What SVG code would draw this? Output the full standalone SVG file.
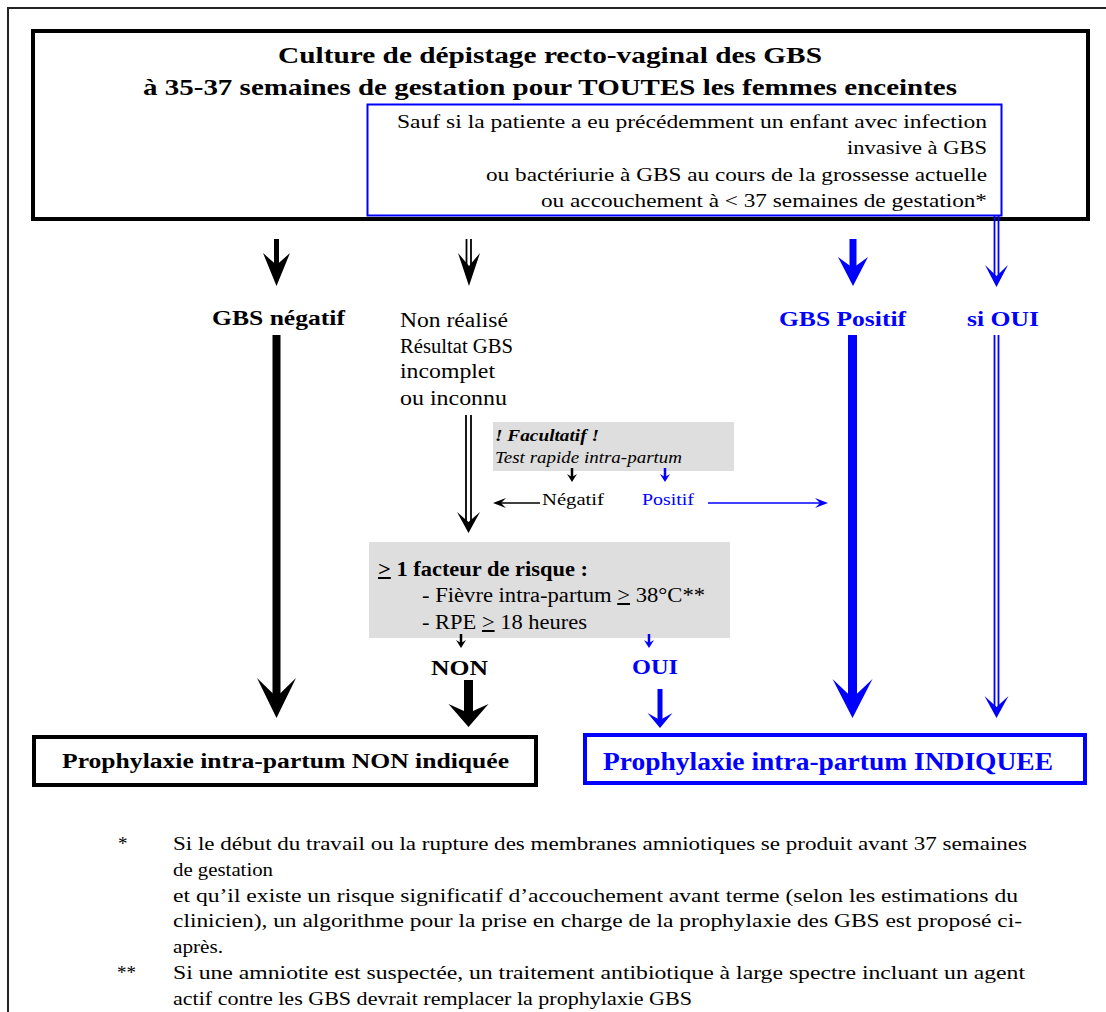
<svg xmlns="http://www.w3.org/2000/svg" width="1106" height="1012" viewBox="0 0 1106 1012">
<style>
text{font-family:"Liberation Serif","DejaVu Serif",serif;fill:#000}
.b{font-weight:bold}
.blue{fill:#0000ff}
.bx{fill:none;stroke:#000;stroke-width:4}
.bbx{fill:none;stroke:#0000ff;stroke-width:4}
.gray{fill:#dedede}
.k{stroke:#000;fill:none}
.kb{stroke:#0000ff;fill:none}
.hk{fill:#000}
.hb{fill:#0000ff}
.fn{font-size:19px}
</style>
<rect width="1106" height="1012" fill="#fff"/>
<path d="M8,1012 V8 H1106" fill="none" stroke="#222" stroke-width="2"/>

<g id="top">
<rect class="bx" x="33" y="31" width="1055" height="188"/>
<text class="b" x="278" y="63" font-size="23" textLength="544" lengthAdjust="spacingAndGlyphs">Culture de dépistage recto-vaginal des GBS</text>
<text class="b" x="143" y="95" font-size="23" textLength="814" lengthAdjust="spacingAndGlyphs">à 35-37 semaines de gestation pour TOUTES les femmes enceintes</text>
</g>

<g id="exception">
<rect x="367.5" y="104.5" width="634" height="111" fill="none" stroke="#0000ff" stroke-width="2"/>
<text x="397" y="128" font-size="18" textLength="590" lengthAdjust="spacingAndGlyphs">Sauf si la patiente a eu précédemment un enfant avec infection</text>
<text x="847" y="154" font-size="18" textLength="140" lengthAdjust="spacingAndGlyphs">invasive à GBS</text>
<text x="486" y="181" font-size="18" textLength="501" lengthAdjust="spacingAndGlyphs">ou bactériurie à GBS au cours de la grossesse actuelle</text>
<text x="541" y="207" font-size="18" textLength="446" lengthAdjust="spacingAndGlyphs">ou accouchement à &lt; 37 semaines de gestation*</text>
</g>

<g id="gbs-negatif">
<text class="b" x="212" y="325" font-size="21" textLength="133" lengthAdjust="spacingAndGlyphs">GBS négatif</text>
</g>

<g id="non-realise">
<text x="400" y="327" font-size="20" textLength="108" lengthAdjust="spacingAndGlyphs">Non réalisé</text>
<text x="400" y="353" font-size="20" textLength="113" lengthAdjust="spacingAndGlyphs">Résultat GBS</text>
<text x="400" y="378" font-size="20" textLength="95" lengthAdjust="spacingAndGlyphs">incomplet</text>
<text x="400" y="405" font-size="20" textLength="107" lengthAdjust="spacingAndGlyphs">ou inconnu</text>
</g>

<g id="gbs-positif">
<text class="b blue" x="779" y="326" font-size="21" textLength="127" lengthAdjust="spacingAndGlyphs">GBS Positif</text>
</g>

<g id="si-oui">
<text class="b blue" x="967" y="326" font-size="21" textLength="72" lengthAdjust="spacingAndGlyphs">si OUI</text>
</g>

<g id="facultatif">
<rect class="gray" x="493" y="422" width="241" height="49"/>
<text class="b" x="495" y="441" font-size="16.5" font-style="italic" textLength="104" lengthAdjust="spacingAndGlyphs">! Facultatif !</text>
<text x="495" y="463" font-size="16.5" font-style="italic" textLength="187" lengthAdjust="spacingAndGlyphs">Test rapide intra-partum</text>
</g>

<g id="negatif">
<text x="542" y="505" font-size="17" textLength="62" lengthAdjust="spacingAndGlyphs">Négatif</text>
</g>

<g id="positif">
<text class="blue" x="642" y="505" font-size="17" textLength="52" lengthAdjust="spacingAndGlyphs">Positif</text>
</g>

<g id="facteur-risque">
<rect class="gray" x="369" y="542" width="361" height="96"/>
<text class="b" x="378" y="576" font-size="20" textLength="210" lengthAdjust="spacingAndGlyphs"><tspan text-decoration="underline">&gt;</tspan> 1 facteur de risque :</text>
<text x="422" y="602" font-size="20" textLength="283" lengthAdjust="spacingAndGlyphs">- Fièvre intra-partum <tspan text-decoration="underline">&gt;</tspan> 38°C**</text>
<text x="422" y="629" font-size="20" textLength="165" lengthAdjust="spacingAndGlyphs">- RPE <tspan text-decoration="underline">&gt;</tspan> 18 heures</text>
</g>

<g id="non">
<text class="b" x="431" y="675" font-size="21" textLength="57" lengthAdjust="spacingAndGlyphs">NON</text>
</g>

<g id="oui">
<text class="b blue" x="632" y="674" font-size="21" textLength="46" lengthAdjust="spacingAndGlyphs">OUI</text>
</g>

<g id="non-indiquee">
<rect class="bx" x="34" y="737" width="502" height="48"/>
<text class="b" x="62" y="768" font-size="20" textLength="447" lengthAdjust="spacingAndGlyphs">Prophylaxie intra-partum NON indiquée</text>
</g>

<g id="indiquee">
<rect class="bbx" x="585" y="735" width="500" height="48"/>
<text class="b blue" x="603" y="770" font-size="25" textLength="450" lengthAdjust="spacingAndGlyphs">Prophylaxie intra-partum INDIQUEE</text>
</g>

<g id="connectors">
<line class="k" x1="276.5" y1="239" x2="276.5" y2="267" stroke-width="5"/>
<path class="hk" d="M263,253 L276.5,286 L290,253 L276.5,265 Z"/>
<line class="k" x1="466.5" y1="239" x2="466.5" y2="268" stroke-width="1.8"/>
<line class="k" x1="471" y1="239" x2="471" y2="268" stroke-width="1.8"/>
<path class="hk" d="M458,253 L469,286 L480,253 L469,266 Z"/>
<line class="kb" x1="853" y1="239" x2="853" y2="270" stroke-width="7"/>
<path class="hb" d="M838,257 L853,286 L868,257 L853,268 Z"/>
<line class="kb" x1="994.5" y1="216" x2="994.5" y2="277" stroke-width="1.8"/>
<line class="kb" x1="998.5" y1="216" x2="998.5" y2="277" stroke-width="1.8"/>
<path class="hb" d="M985,265 L996.5,287 L1008,265 L996.5,276 Z"/>
<line class="k" x1="276.5" y1="335" x2="276.5" y2="700" stroke-width="8"/>
<path class="hk" d="M257,678 L276.5,718 L296,678 L276.5,697 Z"/>
<line class="k" x1="466" y1="415" x2="466" y2="523" stroke-width="1.8"/>
<line class="k" x1="471" y1="415" x2="471" y2="523" stroke-width="1.8"/>
<path class="hk" d="M457,512 L468.5,533 L480,512 L468.5,522 Z"/>
<line class="kb" x1="852.5" y1="335" x2="852.5" y2="700" stroke-width="9"/>
<path class="hb" d="M832.5,679 L852.5,718 L872.5,679 L852.5,698 Z"/>
<line class="kb" x1="994.5" y1="335" x2="994.5" y2="708" stroke-width="1.8"/>
<line class="kb" x1="998.5" y1="335" x2="998.5" y2="708" stroke-width="1.8"/>
<path class="hb" d="M984.5,696 L996.5,718 L1008.5,696 L996.5,707 Z"/>
<line class="k" x1="572" y1="468" x2="572" y2="478" stroke-width="2.5"/>
<path class="hk" d="M567,474 L572,482 L577,474 L572,477 Z"/>
<line class="kb" x1="665" y1="468" x2="665" y2="478" stroke-width="2.5"/>
<path class="hb" d="M660,474 L665,482 L670,474 L665,477 Z"/>
<line class="k" x1="540" y1="503" x2="500" y2="503" stroke-width="1.6"/>
<path class="hk" d="M493,503 L506,498 L501,503 L506,508 Z"/>
<line class="kb" x1="708" y1="503" x2="821" y2="503" stroke-width="1.6"/>
<path class="hb" d="M828,503 L815,498 L820,503 L815,508 Z"/>
<line class="k" x1="461" y1="634" x2="461" y2="643" stroke-width="2.5"/>
<path class="hk" d="M456,640 L461,648 L466,640 L461,643 Z"/>
<line class="kb" x1="649" y1="634" x2="649" y2="643" stroke-width="2.5"/>
<path class="hb" d="M644,640 L649,648 L654,640 L649,643 Z"/>
<line class="k" x1="468.5" y1="680" x2="468.5" y2="714" stroke-width="9"/>
<path class="hk" d="M448.5,704 L468.5,727 L488.5,704 L468.5,713 Z"/>
<line class="kb" x1="660" y1="689" x2="660" y2="720" stroke-width="5"/>
<path class="hb" d="M647.5,713 L660,728 L672.5,713 L660,720 Z"/>
</g>

<g id="footnotes">
<text class="fn" x="118" y="850">*</text>
<text class="fn" x="173" y="850" textLength="854" lengthAdjust="spacingAndGlyphs">Si le début du travail ou la rupture des membranes amniotiques se produit avant 37 semaines</text>
<text class="fn" x="173" y="876" textLength="100" lengthAdjust="spacingAndGlyphs">de gestation</text>
<text class="fn" x="173" y="902" textLength="845" lengthAdjust="spacingAndGlyphs">et qu’il existe un risque significatif d’accouchement avant terme (selon les estimations du</text>
<text class="fn" x="173" y="927" textLength="849" lengthAdjust="spacingAndGlyphs">clinicien), un algorithme pour la prise en charge de la prophylaxie des GBS est proposé ci-</text>
<text class="fn" x="173" y="953" textLength="50" lengthAdjust="spacingAndGlyphs">après.</text>
<text class="fn" x="117" y="979">**</text>
<text class="fn" x="173" y="979" textLength="852" lengthAdjust="spacingAndGlyphs">Si une amniotite est suspectée, un traitement antibiotique à large spectre incluant un agent</text>
<text class="fn" x="173" y="1005" textLength="519" lengthAdjust="spacingAndGlyphs">actif contre les GBS devrait remplacer la prophylaxie GBS</text>
</g>
</svg>
